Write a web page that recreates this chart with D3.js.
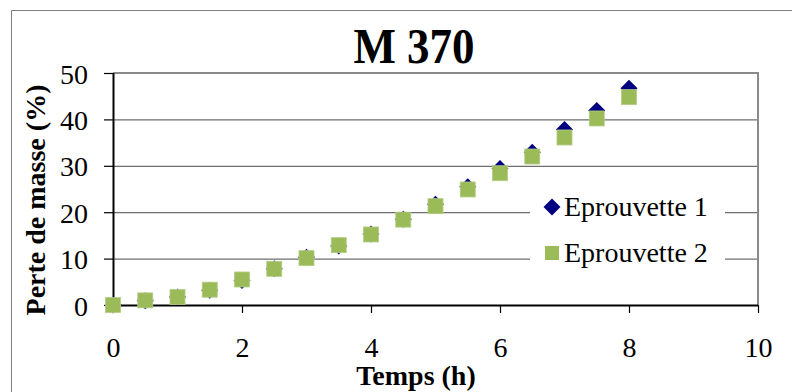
<!DOCTYPE html>
<html><head><meta charset="utf-8">
<script src="https://cdn.jsdelivr.net/npm/d3@7"></script>
</head><body style="margin:0;background:#fff">
<script>
const timeHours = [0,0.5,1,1.5,2,2.5,3,3.5,4,4.5,5,5.5,6,6.5,7,7.5,8];
const eprouvette1 = [0,0.9,1.7,3.2,5.3,7.8,10.3,12.7,15.3,18.5,21.7,25.5,29.4,32.9,37.8,41.9,46.7];
const eprouvette2 = [0,1.0,1.7,3.3,5.5,7.8,10.1,12.9,15.2,18.4,21.3,24.9,28.4,32.0,36.1,40.2,44.8];
const xTicks = [0,2,4,6,8,10];
const yTicks = [0,10,20,30,40,50];
const seriesNames = ["Eprouvette 1","Eprouvette 2"];
const title = "M 370";
const xTitle = "Temps (h)";
const yTitle = "Perte de masse (%)";

const FONT='"Liberation Serif", "Times New Roman", Times, serif';
const W=792,H=392;
const svg=d3.select("body").append("svg").attr("width",W).attr("height",H).style("display","block");
// outer border
svg.append("path").attr("d","M11.5,392 V10.5 H792").attr("fill","none").attr("stroke","#7f7f7f").attr("stroke-width",1);

const L=113,R=758,T=73,B=305;
const x=d3.scaleLinear().domain([0,10]).range([L,R]);
const y=d3.scaleLinear().domain([0,50]).range([B,T]);

// gridlines
svg.append("g").selectAll("line").data(yTicks.filter(d=>d>0&&d<50)).join("line")
  .attr("x1",L).attr("x2",R).attr("y1",d=>y(d)+0.5).attr("y2",d=>y(d)+0.5)
  .attr("stroke","#6e6e6e").attr("stroke-width",1.2);
// plot border top/right
svg.append("path").attr("d",`M${L},${T} H${R} V${B}`).attr("fill","none").attr("stroke","#8a8a8a").attr("stroke-width",2);

// legend background
svg.append("rect").attr("x",530).attr("y",186).attr("width",195).attr("height",88).attr("fill","#fff");

function txt(sel,size,bold){
  return sel.attr("font-family",FONT).style("font-family",FONT)
    .attr("font-size",size).style("font-size",size+"px")
    .attr("font-weight",bold?"bold":"normal").style("font-weight",bold?"bold":"normal")
    .attr("fill","#000");
}

// axes
const xAxis=d3.axisBottom(x).tickValues(xTicks).tickSize(8).tickFormat(d3.format("d"));
const gx=svg.append("g").attr("transform",`translate(0,${B})`).call(xAxis);
gx.select(".domain").attr("stroke","#000").attr("stroke-width",2).attr("d",`M${L},0.5H${R}`);
gx.selectAll(".tick line").attr("stroke","#000").attr("stroke-width",1.2);
gx.selectAll(".tick text").attr("y",52).attr("dy",0);

const yAxis=d3.axisLeft(y).tickValues(yTicks).tickSize(9).tickPadding(16).tickFormat(d3.format("d"));
const gy=svg.append("g").attr("transform",`translate(${L},0)`).call(yAxis);
gy.select(".domain").attr("stroke","#000").attr("stroke-width",2).attr("d",`M0.5,${T}V${B}`);
gy.selectAll(".tick line").attr("stroke","#000").attr("stroke-width",1.2);
gy.selectAll(".tick text").attr("dy","0.36em");
gx.attr("font-family",FONT).attr("font-size",28);
gy.attr("font-family",FONT).attr("font-size",28);
txt(svg.selectAll(".tick text"),28,false);

// markers
const diamond=(s)=>`M0,${-s}L${s},0L0,${s}L${-s},0Z`;
svg.append("g").selectAll("path").data(timeHours.map((t,i)=>[t,eprouvette1[i]])).join("path")
  .attr("transform",d=>`translate(${x(d[0])},${y(d[1])})`).attr("d",diamond(8.5)).attr("fill","#000080");
svg.append("g").selectAll("rect").data(timeHours.map((t,i)=>[t,eprouvette2[i]])).join("rect")
  .attr("x",d=>x(d[0])-7.5).attr("y",d=>y(d[1])-7.5).attr("width",15).attr("height",15)
  .attr("fill","#9bbb59").attr("stroke","#b3cd85").attr("stroke-width",0.8);

// legend
svg.append("path").attr("transform","translate(552,207)").attr("d",diamond(8.5)).attr("fill","#000080");
svg.append("rect").attr("x",545).attr("y",246).attr("width",14).attr("height",14).attr("fill","#9bbb59");
txt(svg.append("text").attr("x",564).attr("y",216),28,false).text(seriesNames[0]);
txt(svg.append("text").attr("x",564).attr("y",262),28,false).text(seriesNames[1]);

// titles
txt(svg.append("text").attr("transform","translate(414,63) scale(1,1.12)").attr("text-anchor","middle"),45,true).text(title);
txt(svg.append("text").attr("x",416).attr("y",385).attr("text-anchor","middle"),28,true).text(xTitle);
txt(svg.append("text").attr("transform","translate(45,200) rotate(-90)").attr("text-anchor","middle"),28,true).text(yTitle);
</script>
</body></html>
